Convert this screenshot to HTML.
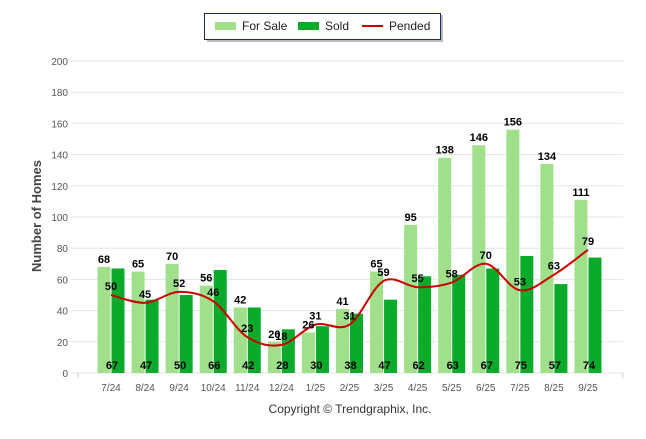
<!DOCTYPE html>
<html><head><meta charset="utf-8"><style>
body{margin:0;background:#fff;width:646px;height:434px;overflow:hidden;font-family:"Liberation Sans",sans-serif}
</style></head><body>
<svg id="chart" width="646" height="434" xmlns="http://www.w3.org/2000/svg" font-family="Liberation Sans, sans-serif">
<g id="grid"></g>
<g id="bars"></g>
<g id="line"></g>
<g id="labels"></g>
<text transform="translate(41,216) rotate(-90)" text-anchor="middle" font-size="13" font-weight="bold" fill="#444">Number of Homes</text>
<text x="350" y="413" text-anchor="middle" font-size="12" fill="#333">Copyright © Trendgraphix, Inc.</text>
<g>
<rect x="207" y="15" width="236" height="27" fill="#777" opacity="0.5"/>
<rect x="204.5" y="13.5" width="236" height="26" fill="#fff" stroke="#1a2a5a" stroke-width="1"/>
<rect x="215" y="22" width="21" height="8" fill="#a0e08a"/>
<text x="242" y="30" font-size="12" fill="#222">For Sale</text>
<rect x="298" y="22" width="21" height="8" fill="#0aaa2a"/>
<text x="325" y="30" font-size="12" fill="#222">Sold</text>
<line x1="362" y1="26" x2="383" y2="26" stroke="#cc0000" stroke-width="2"/>
<text x="389" y="30" font-size="12" fill="#222">Pended</text>
</g>
</svg>
<script>
const categories=["7/24","8/24","9/24","10/24","11/24","12/24","1/25","2/25","3/25","4/25","5/25","6/25","7/25","8/25","9/25"];
const forSale=[68,65,70,56,42,20,26,41,65,95,138,146,156,134,111];
const sold=[67,47,50,66,42,28,30,38,47,62,63,67,75,57,74];
const pended=[50,45,52,46,23,18,31,31,59,55,58,70,53,63,79];
const yTicks=[0,20,40,60,80,100,120,140,160,180,200];
const NS="http://www.w3.org/2000/svg";
function y(v){return 373-v*1.56;}
function x(i){return 111+i*34.07;}
function mk(tag,attrs,parent,txt){const e=document.createElementNS(NS,tag);for(const k in attrs)e.setAttribute(k,attrs[k]);if(txt!==undefined)e.textContent=txt;document.getElementById(parent).appendChild(e);return e;}
yTicks.forEach(t=>{
 const l=mk('line',{x1:71,x2:623,y1:y(t),y2:y(t),stroke:'#e6e6e6','stroke-width':1},'grid');
 
 
 const tx=mk('text',{x:68,y:y(t)+4,'text-anchor':'end','font-size':10,fill:'#555'},'grid',t);
 
 
});
mk('line',{x1:78,x2:78,y1:373,y2:378,stroke:'#ccc'},'grid');
mk('line',{x1:623,x2:623,y1:373,y2:378,stroke:'#ccc'},'grid');
categories.forEach((c,i)=>{
 const t=mk('text',{x:x(i),y:391,'text-anchor':'middle','font-size':10,fill:'#555'},'grid',c);
 
 
 const a=mk('rect',{x:x(i)-13.5,y:y(forSale[i]),width:13,height:373-y(forSale[i]),fill:'#a0e08a'},'bars');
 
 
 const b=mk('rect',{x:x(i)+0.5,y:y(sold[i]),width:13,height:373-y(sold[i]),fill:'#0aaa2a'},'bars');
 
 
 const l1=mk('text',{x:x(i)-7,y:y(forSale[i])-4,'text-anchor':'middle','font-size':11,'font-weight':'bold',fill:'#000'},'labels',forSale[i]);
 
 
 const l2=mk('text',{x:x(i)+1,y:369,'text-anchor':'middle','font-size':11,'font-weight':'bold',fill:'#000'},'labels',sold[i]);
 
 
 const l3=mk('text',{x:x(i),y:y(pended[i])-5,'text-anchor':'middle','font-size':11,'font-weight':'bold',fill:'#000'},'labels',pended[i]);
 
 
});
const pts=pended.map((v,i)=>[x(i),y(v)]);
let d='M'+pts[0][0]+','+pts[0][1];
for(let i=0;i<pts.length-1;i++){
 const p0=pts[Math.max(0,i-1)],p1=pts[i],p2=pts[i+1],p3=pts[Math.min(pts.length-1,i+2)];
 const k=1/6;
 d+=' C'+(p1[0]+(p2[0]-p0[0])*k)+','+(p1[1]+(p2[1]-p0[1])*k)+' '+(p2[0]-(p3[0]-p1[0])*k)+','+(p2[1]-(p3[1]-p1[1])*k)+' '+p2[0]+','+p2[1];
}
const path=mk('path',{d:d,fill:'none',stroke:'#cc0000','stroke-width':2},'line');


</script>
</body></html>
